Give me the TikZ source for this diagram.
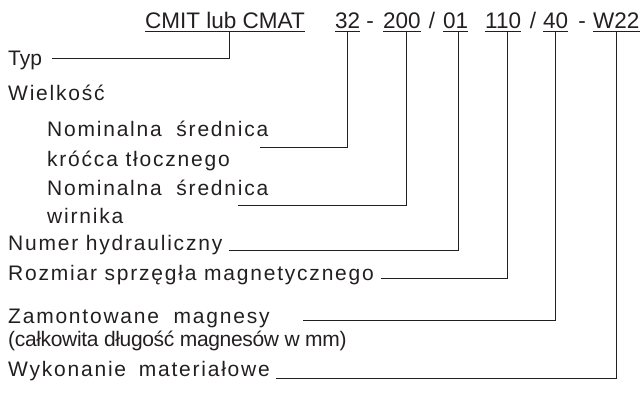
\documentclass[tikz,border=0pt]{standalone}
\usepackage{fontspec}
\setmainfont{Liberation Sans}
\newfontfamily\lblfont{Liberation Sans}[LetterSpace=8.5]
\newfontfamily\lbltight{Liberation Sans}[LetterSpace=-1.6]
\definecolor{ink}{RGB}{35,31,32}
\tikzset{
	code/.style={anchor=base west, inner sep=0pt, text depth=2.5pt, text=ink, font=\fontsize{22.5pt}{26pt}\selectfont},
	sep/.style={anchor=base, inner sep=0pt, text=ink, font=\fontsize{22.5pt}{26pt}\selectfont},
	lbl/.style={anchor=base west, inner sep=0pt, text=ink, font=\lblfont\fontsize{21pt}{25pt}\selectfont},
	lead/.style={draw=ink, line width=0.9pt}
}
\begin{document}
\begin{tikzpicture}[x=1pt, y=-1pt]
	\useasboundingbox (0,0) rectangle (642,392);

	% type code
	\node [code] (cmat) at (145,28.3) {CMIT lub CMAT};
	\node [code] (size) at (335,28.3) {32};
	\node [sep] (s1) at (370,28.3) {-};
	\node [code] (imp) at (383,28.3) {200};
	\node [sep] (s2) at (432,28.3) {/};
	\node [code] (hyd) at (443,28.3) {01};
	\node [code] (coup) at (485,28.3) {110};
	\node [sep] (s3) at (533,28.3) {/};
	\node [code] (mag) at (543,28.3) {40};
	\node [sep] (s4) at (582,28.3) {-};
	\node [code] (mat) at (593,28.3) {W22};
	\foreach \n in {cmat,size,imp,hyd,coup,mag,mat}
		\draw [lead] (\n.south west) -- (\n.south east);

	% labels
	\node [lbl, font=\fontsize{21pt}{25pt}\selectfont] (typ) at (8,65) {Typ};
	\node [lbl] (wlk) at (8,100) {Wielkość};
	\node [lbl] (nom1) at (47,136.7) {Nominalna\hspace{7pt} średnica};
	\node [lbl] (nom1b) at (47,166.7) {króćca tłocznego};
	\node [lbl] (nom2) at (47,195) {Nominalna\hspace{7pt} średnica};
	\node [lbl] (nom2b) at (47,223) {wirnika};
	\node [lbl] (num) at (8,250) {Numer hydrauliczny};
	\node [lbl] (roz) at (8,280) {Rozmiar sprzęgła magnetycznego};
	\node [lbl] (zam) at (8,323.3) {Zamontowane\hspace{7pt} magnesy};
	\node [lbl, font=\lbltight\fontsize{21pt}{25pt}\selectfont] (zamb) at (8,346.7) {(całkowita długość magnesów w mm)};
	\node [lbl] (wyk) at (8,376.7) {Wykonanie\hspace{5pt} materiałowe};

	% leader lines
	\coordinate (typ-e) at (51.7,58.3);
	\coordinate (nom1-e) at (260,147.4);
	\coordinate (nom2-e) at (237.5,205.7);
	\coordinate (num-e) at (229,250);
	\coordinate (roz-e) at (381,278);
	\coordinate (zam-e) at (303,320);
	\coordinate (wyk-e) at (276,378);
	\draw [lead] (typ-e) -| ([xshift=4.5pt]cmat.south);
	\draw [lead] (nom1-e) -| (size.south);
	\draw [lead] (nom2-e) -| ([xshift=4pt]imp.south);
	\draw [lead] (num-e) -| ([xshift=2.5pt]hyd.south);
	\draw [lead] (roz-e) -| ([xshift=4pt]coup.south);
	\draw [lead] (zam-e) -| (mag.south);
	\draw [lead] (wyk-e) -| (mat.south);
\end{tikzpicture}
\end{document}
